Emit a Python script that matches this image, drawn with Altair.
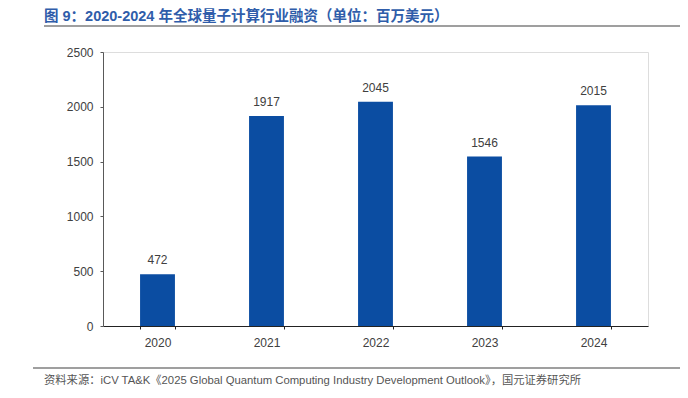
import altair as alt
import pandas as pd

years = ["2020", "2021", "2022", "2023", "2024"]
funding = [472, 1917, 2045, 1546, 2015]
y_ticks = [0, 500, 1000, 1500, 2000, 2500]

title_text = "图 9：2020-2024 年全球量子计算行业融资（单位：百万美元）"
source_text = "资料来源：iCV TA&K《2025 Global Quantum Computing Industry Development Outlook》，国元证券研究所"

df = pd.DataFrame({"year": years, "value": funding})

W, H = 545, 274
FONT = "Liberation Sans, Arial, Noto Sans CJK SC, sans-serif"

x_enc = alt.X("year:N", sort=years,
              scale=alt.Scale(paddingInner=0.68, paddingOuter=0.34),
              axis=alt.Axis(title=None, labelAngle=0, labelFontSize=12, labelColor="#404040",
                            labelFont=FONT, labelPadding=8, domainColor="#222222", domainWidth=1.2,
                            tickBand="extent", tickSize=3, tickColor="#222222"))
y_enc = alt.Y("value:Q",
              scale=alt.Scale(domain=[0, 2500], nice=False),
              axis=alt.Axis(title=None, values=y_ticks, format="d", grid=False, labelFontSize=12,
                            labelColor="#404040", labelFont=FONT, labelPadding=7,
                            domainColor="#595959", tickColor="#595959", tickSize=3))

bars = alt.Chart(df).mark_bar(color="#0B4DA2").encode(x=x_enc, y=y_enc)
labels = alt.Chart(df).mark_text(baseline="bottom", dy=-7, fontSize=12, color="#404040",
                                 font=FONT).encode(
    x=alt.X("year:N", sort=years), y="value:Q", text="value:Q")

title = alt.Chart(pd.DataFrame({"t": [title_text]})).mark_text(
    align="left", baseline="middle", fontSize=14.5, fontWeight="bold", color="#2F5DAA",
    font=FONT).encode(
    x=alt.value(-59), y=alt.value(-35), text="t:N")

source = alt.Chart(pd.DataFrame({"t": [source_text]})).mark_text(
    align="left", baseline="middle", fontSize=11.3, color="#555555",
    font=FONT).encode(
    x=alt.value(-59), y=alt.value(329), text="t:N")

line_top = alt.Chart(pd.DataFrame({"a": [0]})).mark_rule(color="#7F7F7F", strokeWidth=1.5).encode(
    x=alt.value(-59), x2=alt.value(590), y=alt.value(-26))
line_bottom = alt.Chart(pd.DataFrame({"a": [0]})).mark_rule(color="#7F7F7F", strokeWidth=1.5).encode(
    x=alt.value(-70), x2=alt.value(590), y=alt.value(316))

chart = alt.layer(bars, labels, title, source, line_top, line_bottom).properties(
    width=W, height=H,
    autosize=alt.AutoSizeParams(type="none"),
    padding={"left": 95, "top": 44, "right": 32, "bottom": 60},
).configure_view(stroke=None).configure(background="white")

chart.save("out.html", embed_options={"renderer": "svg", "actions": False})
